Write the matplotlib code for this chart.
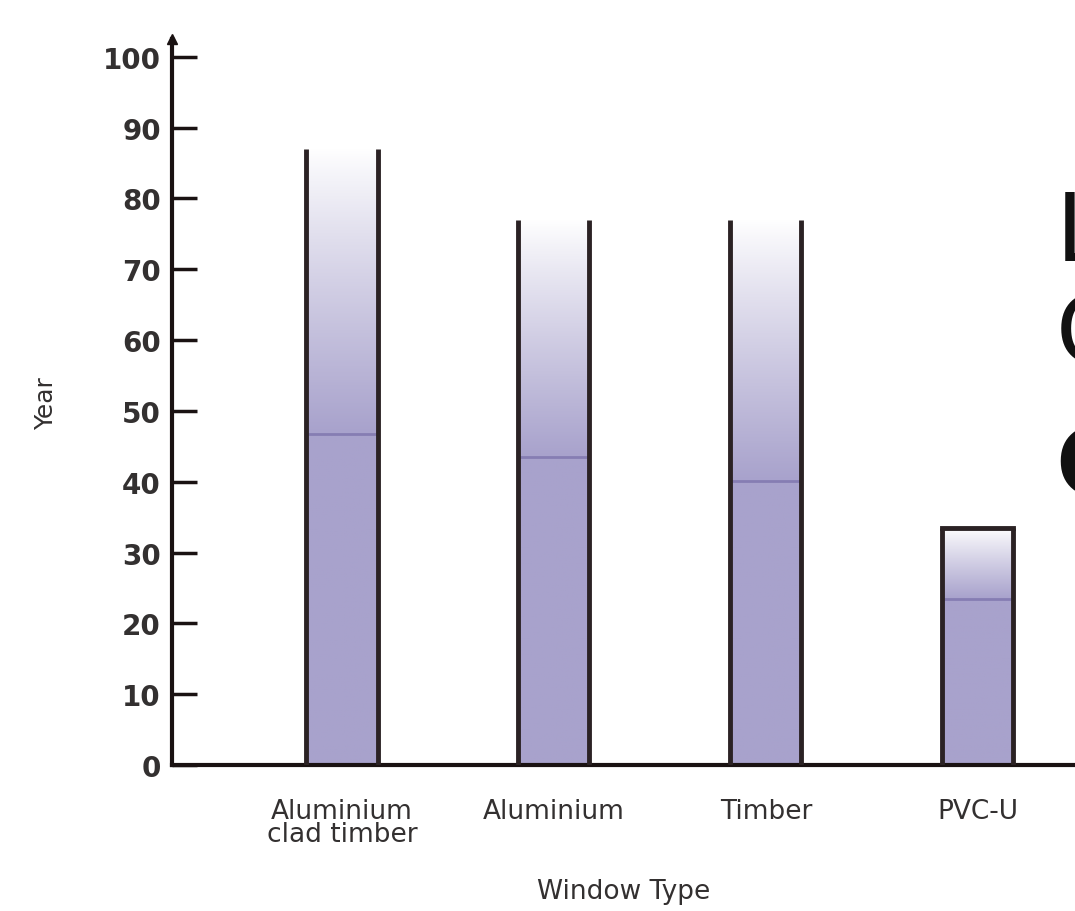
import numpy as np
import matplotlib.pyplot as plt
from matplotlib.colors import LinearSegmentedColormap

# data
window_types = ["Aluminium\nclad timber", "Aluminium", "Timber", "PVC-U"]
max_life = [87, 77, 77, 33.5]
mean_life = [46.8, 43.5, 40.1, 23.4]
y_ticks = [0, 10, 20, 30, 40, 50, 60, 70, 80, 90, 100]

fill_color = "#a8a2cc"
edge_color = "#2b2224"
mean_color = "#867db3"
text_color = "#333030"

fig = plt.figure(figsize=(10.75, 9.12), dpi=100)
ax = fig.add_axes([0.16, 0.16, 0.84, 0.796])

bar_w = 0.335
x = np.arange(len(window_types))
fade = LinearSegmentedColormap.from_list("fade", ["white", fill_color])

for i, (top, mean) in enumerate(zip(max_life, mean_life)):
    left = x[i] - bar_w / 2
    right = x[i] + bar_w / 2
    # vertical gradient: solid up to the mean, fading to white at the top
    yy = np.linspace(0, top, 300)
    vals = np.where(yy <= mean, 1.0, 1.0 - (yy - mean) / (top - mean))
    vals = np.clip(vals, 0, 1) ** 0.9
    ax.imshow(vals[:, None], cmap=fade, vmin=0, vmax=1, origin="lower",
              extent=[left, right, 0, top], aspect="auto", zorder=1)
    ax.plot([left, left], [0, top], color=edge_color, lw=3.5, zorder=3,
            solid_capstyle="butt")
    ax.plot([right, right], [0, top], color=edge_color, lw=3.5, zorder=3,
            solid_capstyle="butt")
    ax.plot([left, right], [mean, mean], color=mean_color, lw=2, zorder=2)

# PVC-U has a closed top
ax.plot([x[3] - bar_w / 2, x[3] + bar_w / 2], [max_life[3], max_life[3]],
        color=edge_color, lw=3.5, zorder=3)

ax.set_xlim(-0.802, 3.458)
ax.set_ylim(0, 102.5)

for s in ["top", "right"]:
    ax.spines[s].set_visible(False)
ax.spines["left"].set_linewidth(3)
ax.spines["bottom"].set_linewidth(3)
ax.spines["left"].set_color("#1a1212")
ax.spines["bottom"].set_color("#1a1212")

# arrow head on y axis
ax.plot(0, 1.0, marker="^", color="#1a1212", markersize=7,
        transform=ax.transAxes, clip_on=False)

ax.set_yticks(y_ticks)
ax.set_yticklabels([str(t) for t in y_ticks], fontsize=20, fontweight="bold")
ax.tick_params(axis="y", direction="in", length=18, width=2.5, pad=8,
               colors="#1a1212", labelcolor=text_color)
ax.set_xticks(x)
ax.set_xticklabels(window_types, fontsize=19, color=text_color, linespacing=0.85)
ax.tick_params(axis="x", length=0, pad=24)

ax.set_xlabel("Window Type", fontsize=19, color=text_color, labelpad=22)
ax.set_ylabel("Year", fontsize=18, color=text_color, labelpad=32)

# large letters cut off at the right edge
for ty, letter, wt in zip([0.742, 0.63, 0.485], ["L", "C", "C"],
                          ["normal", "normal", "bold"]):
    fig.text(0.982, ty, letter, fontsize=68, color="#111111",
             va="center", ha="left", fontweight=wt)

fig.savefig("out.png", dpi=100)
